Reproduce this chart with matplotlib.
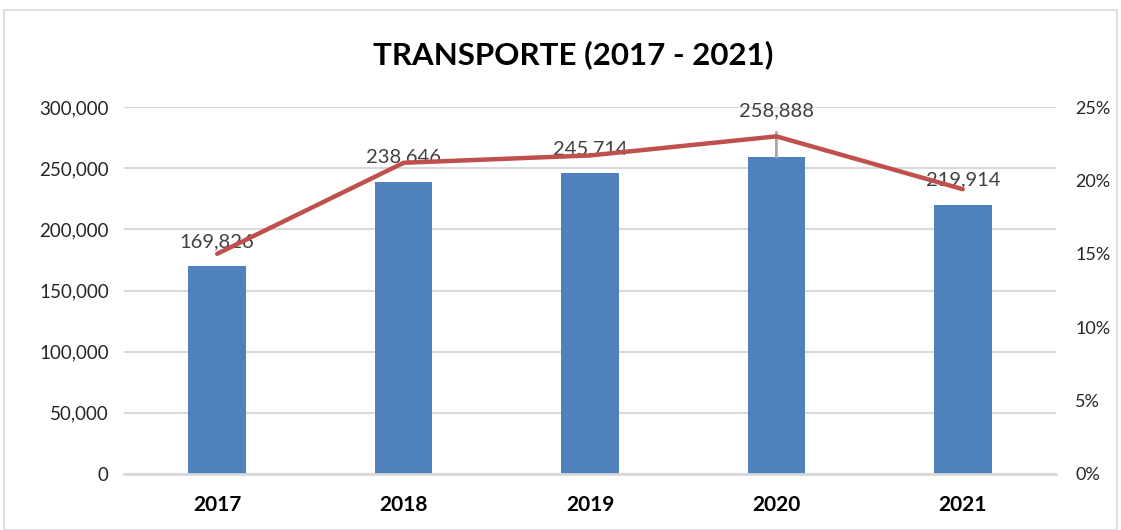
import matplotlib
matplotlib.use("Agg")
import matplotlib.pyplot as plt
from matplotlib.patches import Rectangle
from matplotlib.ticker import FuncFormatter

years = ["2017", "2018", "2019", "2020", "2021"]
transporte = [169826, 238646, 245714, 258888, 219914]
share_pct = [15.0, 21.2, 21.7, 23.0, 19.4]

# label offsets (pixels) above the line points
label_dy = [12, 6, 7, 26, 9]

plt.rcParams['font.family'] = ['Lato', 'DejaVu Sans']

fig = plt.figure(figsize=(11.21, 5.30), dpi=100)
fig.patches.append(Rectangle((4 / 1121, 0.0), 1113 / 1121, 1 - 10 / 530,
                             transform=fig.transFigure, fill=False,
                             edgecolor='#d9d9d9', lw=1.2))

ax = fig.add_axes([124 / 1121, 1 - 474 / 530, (1056 - 124) / 1121, (474 - 107) / 530])
x = list(range(len(years)))
ax.bar(x, transporte, width=0.31, color='#4F81BD', zorder=2)
ax.set_xlim(-0.5, len(years) - 0.5)
ax.set_ylim(0, 300000)
ax.set_yticks(range(0, 300001, 50000))
ax.yaxis.set_major_formatter(FuncFormatter(lambda v, p: f"{int(v):,}"))
ax.grid(axis='y', color='#d9d9d9', lw=1.5, zorder=0)
ax.set_axisbelow(True)
for s in ['top', 'right', 'left']:
    ax.spines[s].set_visible(False)
ax.spines['bottom'].set_color('#d9d9d9')
ax.spines['bottom'].set_linewidth(2)
ax.tick_params(axis='both', length=0)
ax.tick_params(axis='y', labelsize=13.5, colors='#262626', pad=11)
ax.set_xticks(x)
ax.set_xticklabels(years, fontsize=15, fontweight='bold')
ax.tick_params(axis='x', pad=15)

ax2 = ax.twinx()
ax2.plot(x, share_pct, color='#C0504D', lw=3.2, zorder=3, solid_capstyle='round')
ax2.set_ylim(0, 25)
ax2.set_yticks(range(0, 26, 5))
ax2.yaxis.set_major_formatter(FuncFormatter(lambda v, p: f"{int(v)}%"))
for s in ['top', 'right', 'left', 'bottom']:
    ax2.spines[s].set_visible(False)
ax2.tick_params(axis='y', length=0, labelsize=13, colors='#262626', pad=14)

for i, (v, p) in enumerate(zip(transporte, share_pct)):
    if i == 3:
        # label pulled up with a leader line to the bar top
        ax.annotate(f"{v:,}", xy=(i, v), xytext=(0, 46), textcoords='offset pixels',
                    ha='center', va='center', fontsize=14.5, color='#404040',
                    arrowprops=dict(arrowstyle='-', color='#a6a6a6', lw=2,
                                    shrinkA=7, shrinkB=0), zorder=4)
    else:
        ax2.annotate(f"{v:,}", xy=(i, p), xytext=(0, label_dy[i]), textcoords='offset pixels',
                     ha='center', va='center', fontsize=14.5, color='#404040', zorder=2)

fig.text(573 / 1121, 1 - 55 / 530, "TRANSPORTE (2017 - 2021)", ha='center', va='center',
         fontsize=22.5, fontweight='bold', color='black')

fig.savefig("out.png", dpi=100)
